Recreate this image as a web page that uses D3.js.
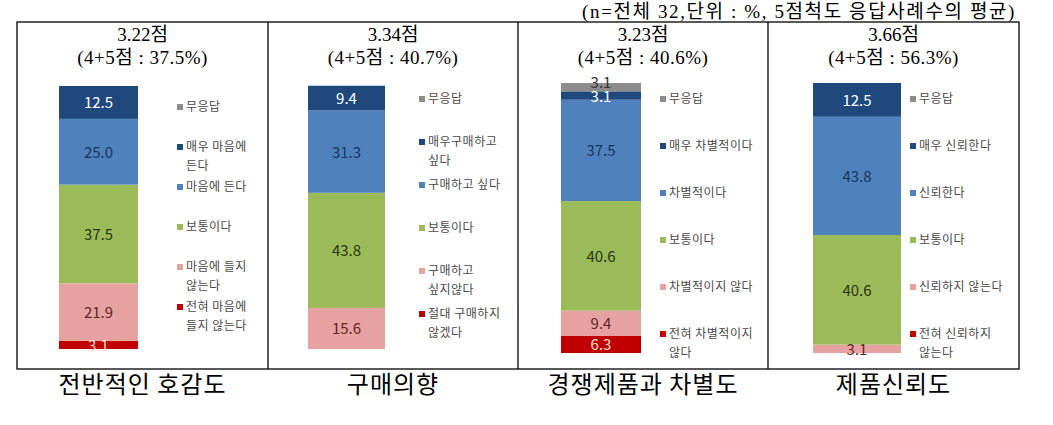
<!DOCTYPE html>
<html>
<head>
<meta charset="utf-8">
<script src="https://cdn.jsdelivr.net/npm/d3@7"></script>
<style>
  body { margin: 0; background: #fff; }
  svg { display: block; }
</style>
</head>
<body>
<div id="chart"></div>
<script>
// data (stack order: bottom -> top)
const panelNames = ["전반적인 호감도", "구매의향", "경쟁제품과 차별도", "제품신뢰도"];
const meanScores = ["3.22점", "3.34점", "3.23점", "3.66점"];
const topTwo = ["(4+5점 : 37.5%)", "(4+5점 : 40.7%)", "(4+5점 : 40.6%)", "(4+5점 : 56.3%)"];
const levelKeys = ["전혀", "부정", "보통", "긍정", "매우", "무응답"];

const valuesLiking = [3.1, 21.9, 37.5, 25.0, 12.5, 0];
const valuesPurchase = [0, 15.6, 43.8, 31.3, 9.4, 0];
const valuesDistinct = [6.3, 9.4, 40.6, 37.5, 3.1, 3.1];
const valuesTrust = [0, 3.1, 40.6, 43.8, 12.5, 0];
const panelValues = [valuesLiking, valuesPurchase, valuesDistinct, valuesTrust];

// legend labels, top -> bottom
const legendLiking = ["무응답", "매우 마음에\n든다", "마음에 든다", "보통이다", "마음에 들지\n않는다", "전혀 마음에\n들지 않는다"];
const legendPurchase = ["무응답", "매우구매하고\n싶다", "구매하고 싶다", "보통이다", "구매하고\n싶지않다", "절대 구매하지\n않겠다"];
const legendDistinct = ["무응답", "매우 차별적이다", "차별적이다", "보통이다", "차별적이지 않다", "전혀 차별적이지\n않다"];
const legendTrust = ["무응답", "매우 신뢰한다", "신뢰한다", "보통이다", "신뢰하지 않는다", "전혀 신뢰하지\n않는다"];
const panelLegends = [legendLiking, legendPurchase, legendDistinct, legendTrust];

const noteText = "(n=전체 32,단위 : %, 5점척도 응답사례수의 평균)";

// styles
const fillColor = {"전혀": "#c00000", "부정": "#e6a1a1", "보통": "#9bbb59", "긍정": "#4f81bd", "매우": "#1f497d", "무응답": "#8c8c8c"};
const labelColor = {"전혀": "#ffd9d9", "부정": "#632523", "보통": "#27340f", "긍정": "#17375e", "매우": "#ffffff", "무응답": "#333333"};
const legendOrder = ["무응답", "매우", "긍정", "보통", "부정", "전혀"];

const width = 1053, height = 425;
const borders = [17, 268, 518, 768, 1019];
const tableTop = 22, tableBottom = 369;

// per-panel layout
const layout = [
  {barX: 59, barW: 79, top: 86, bottom: 349, legX: 177, legY: 111, legStep: 40},
  {barX: 308, barW: 77, top: 86, bottom: 349, legX: 419, legY: 103, legStep: 43},
  {barX: 561, barW: 80, top: 83, bottom: 353, legX: 660, legY: 103, legStep: 47},
  {barX: 813, barW: 88, top: 83, bottom: 353, legX: 910, legY: 103, legStep: 47}
];

const svg = d3.select("#chart").append("svg")
  .attr("width", width).attr("height", height);

const serif = "'Liberation Serif', 'Noto Sans CJK KR', serif";
const sans = "'Noto Sans CJK KR', 'Noto Sans', sans-serif";

svg.append("text")
  .attr("x", 1016).attr("y", 18)
  .attr("text-anchor", "end")
  .style("font-family", serif).style("font-size", "19px")
  .style("letter-spacing", "1.6px")
  .text(noteText);

// table frame
svg.append("rect")
  .attr("x", borders[0]).attr("y", tableTop)
  .attr("width", borders[4] - borders[0]).attr("height", tableBottom - tableTop)
  .attr("fill", "none").attr("stroke", "#000").attr("stroke-width", 1.3);
svg.selectAll("line.div")
  .data(borders.slice(1, 4))
  .enter().append("line")
  .attr("x1", d => d).attr("x2", d => d)
  .attr("y1", tableTop).attr("y2", tableBottom)
  .attr("stroke", "#000").attr("stroke-width", 1.3);

panelNames.forEach((name, i) => {
  const L = layout[i];
  const cx = (borders[i] + borders[i + 1]) / 2;
  const g = svg.append("g");

  g.append("text").attr("x", cx).attr("y", 41)
    .attr("text-anchor", "middle")
    .style("font-family", serif).style("font-size", "19px")
    .text(meanScores[i]);
  g.append("text").attr("x", cx).attr("y", 64)
    .attr("text-anchor", "middle")
    .style("font-family", serif).style("font-size", "19px")
    .style("letter-spacing", "0.5px")
    .text(topTwo[i]);

  svg.append("text").attr("x", cx).attr("y", 393)
    .attr("text-anchor", "middle")
    .style("font-family", sans).style("font-size", "24px")
    .style("letter-spacing", "1px")
    .text(name);

  const y = d3.scaleLinear().domain([0, 100]).range([L.bottom, L.top]);
  const row = {};
  levelKeys.forEach((k, j) => row[k] = panelValues[i][j]);
  const series = d3.stack().keys(levelKeys)([row]);

  const segs = series.map(s => ({key: s.key, y0: s[0][0], y1: s[0][1], v: row[s.key]}))
    .filter(d => d.v > 0);

  g.selectAll("rect.seg").data(segs).enter().append("rect")
    .attr("x", L.barX).attr("width", L.barW)
    .attr("y", d => y(d.y1)).attr("height", d => y(d.y0) - y(d.y1))
    .attr("fill", d => fillColor[d.key]);

  g.selectAll("text.val").data(segs).enter().append("text")
    .attr("x", L.barX + L.barW / 2)
    .attr("y", d => (y(d.y0) + y(d.y1)) / 2 + (d.key === "무응답" ? 1 : 6))
    .attr("text-anchor", "middle")
    .style("font-family", sans).style("font-size", "15px")
    .attr("fill", d => labelColor[d.key])
    .text(d => d3.format(".1f")(d.v));

  // legend
  const leg = g.selectAll("g.leg").data(legendOrder).enter().append("g")
    .attr("transform", (d, j) => `translate(${L.legX},${L.legY + j * L.legStep})`);
  leg.append("rect")
    .attr("x", 0).attr("y", -7).attr("width", 6).attr("height", 6)
    .attr("fill", d => fillColor[d]);
  leg.append("text")
    .attr("x", 9).attr("y", 0)
    .style("font-family", sans).style("font-size", "12px")
    .style("letter-spacing", "0.5px")
    .attr("fill", "#4a4a4a")
    .selectAll("tspan")
    .data((d, j) => panelLegends[i][j].split("\n"))
    .enter().append("tspan")
    .attr("x", 9).attr("dy", (d, k) => k === 0 ? 0 : 19)
    .text(d => d);
});
</script>
</body>
</html>
